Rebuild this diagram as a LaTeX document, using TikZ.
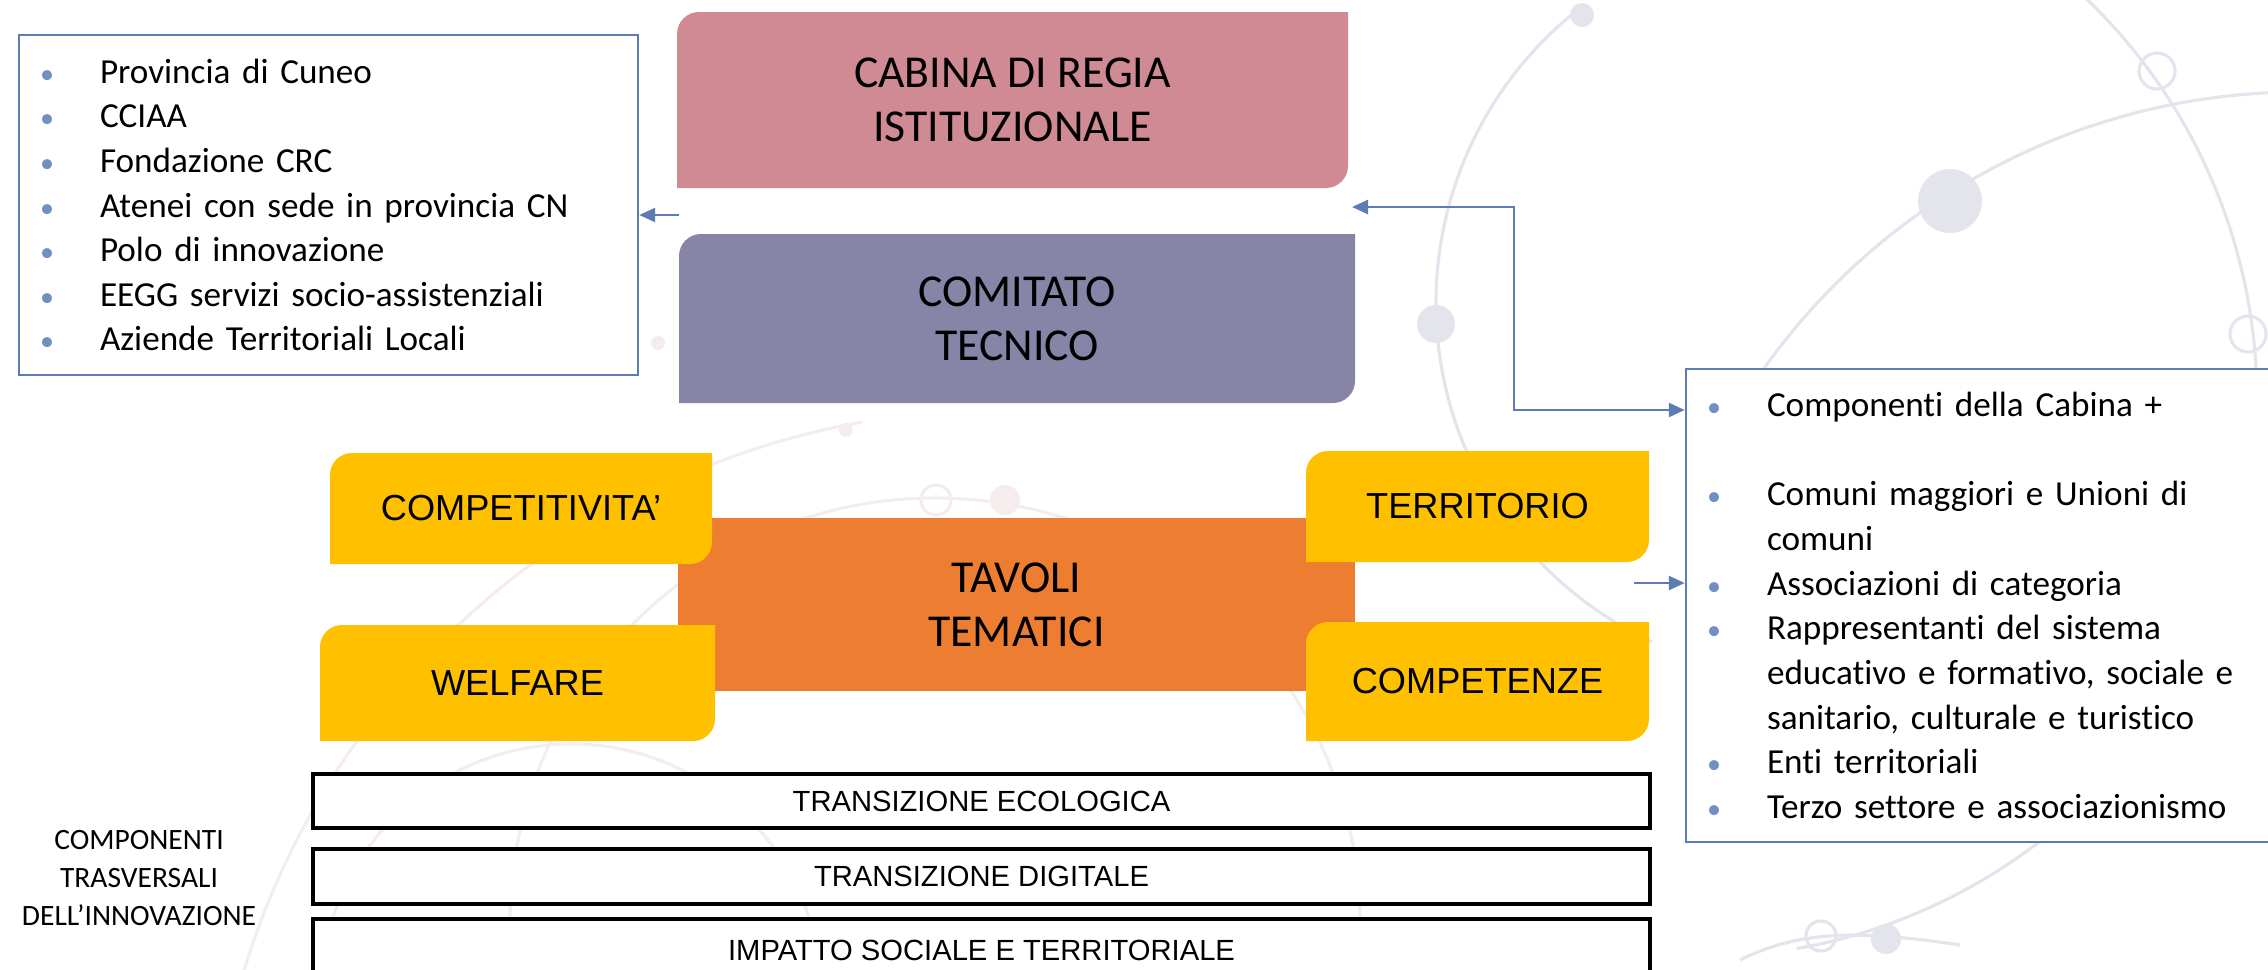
\documentclass[tikz,border=0pt]{standalone}
\usepackage{fontspec}
\setmainfont{Carlito}[Ligatures=NoCommon]
\newfontfamily\arialfont{Liberation Sans}
\usetikzlibrary{arrows.meta,positioning,calc}

\definecolor{cabina}{HTML}{D08A93}
\definecolor{comitato}{HTML}{8684A7}
\definecolor{tavoli}{HTML}{ED7D31}
\definecolor{giallo}{HTML}{FFC000}
\definecolor{linea}{HTML}{5B7DB3}
\definecolor{puntino}{HTML}{7090C4}
\definecolor{sfondo}{HTML}{E4E4EC}
\definecolor{sfondorosa}{HTML}{F5ECEE}

\newcommand{\voce}[1]{\makebox[0.6cm][l]{\textcolor{puntino}{\fontsize{8}{8}\selectfont\textbullet}}#1}

\begin{document}
\begin{tikzpicture}
[
	lista/.style={rectangle,draw=linea,line width=0.7pt,fill=white,align=left,inner xsep=0.21cm,inner ysep=0pt,font=\fontsize{10}{12.7}\selectfont},
	angolo/.style={rectangle,inner sep=0pt,align=center,path picture={
		\fill[#1] (path picture bounding box.south west) -- ([yshift=-0.22cm]path picture bounding box.north west)
			arc[start angle=180,end angle=90,radius=0.22cm] -- (path picture bounding box.north east)
			-- ([yshift=0.22cm]path picture bounding box.south east) arc[start angle=0,end angle=-90,radius=0.22cm] -- cycle;}},
	grande/.style={font=\fontsize{13}{15.4}\selectfont},
	tema/.style={angolo=giallo,font=\arialfont\fontsize{10.3}{12}\selectfont},
	barra/.style={rectangle,draw=black,line width=1pt,fill=white,inner sep=0pt,minimum width=13.37cm,font=\arialfont\fontsize{8.3}{10}\selectfont},
	freccia/.style={draw=linea,line width=0.75pt,->},
	>={Triangle[length=0.16cm,width=0.14cm]}
]
	\useasboundingbox (0,0) rectangle (22.68,-9.69);
	\clip (0,0) rectangle (22.68,-9.69);

	% sfondo
	\begin{scope}[draw=sfondo,line width=0.9pt]
		\draw (17.00,-4.00) ++(50:5.57) arc[start angle=50,end angle=-80,radius=5.57];
		\draw (18.10,-3.03) ++(128:3.74) arc[start angle=128,end angle=245,radius=3.74];
		\draw (23.00,-7.50) ++(92:6.58) arc[start angle=92,end angle=146,radius=6.58];
		\fill[sfondo] (15.82,-0.15) circle[radius=0.12];
		\fill[sfondo] (14.36,-3.24) circle[radius=0.19];
		\fill[sfondo] (19.50,-2.01) circle[radius=0.32];
		\draw (21.57,-0.71) circle[radius=0.18];
		\draw (22.48,-3.34) circle[radius=0.18];
		\draw (18.21,-9.36) circle[radius=0.15];
		\fill[sfondo] (18.86,-9.39) circle[radius=0.15];
		\draw (17.40,-9.60) .. controls (18.00,-9.30) and (18.60,-9.30) .. (19.60,-9.45);
	\end{scope}
	\begin{scope}[draw=sfondorosa,line width=0.9pt]
		\draw (9.35,-9.23) circle[radius=4.25];
		\draw (10.00,-12.00) ++(100:7.90) arc[start angle=100,end angle=168,radius=7.90];
		\draw (5.71,-9.94) ++(15:2.50) arc[start angle=15,end angle=165,radius=2.50];
		\draw (9.36,-5.00) circle[radius=0.15];
		\fill[sfondorosa] (10.05,-5.00) circle[radius=0.15];
		\fill[sfondorosa] (6.58,-3.43) circle[radius=0.07];
		\fill[sfondorosa] (8.46,-4.30) circle[radius=0.07];
	\end{scope}

	% riquadri elenco
	\node[lista,minimum width=6.19cm,minimum height=3.40cm,text width=5.77cm] (enti) at (3.285,-2.05) {
		\voce{Provincia di Cuneo}\\
		\voce{CCIAA}\\
		\voce{Fondazione CRC}\\
		\voce{Atenei con sede in provincia CN}\\
		\voce{Polo di innovazione}\\
		\voce{EEGG servizi socio-assistenziali}\\
		\voce{Aziende Territoriali Locali}};
	\node[lista,minimum width=6.24cm,minimum height=4.73cm,text width=5.82cm] (membri) at (19.98,-6.055) {
		\voce{Componenti della Cabina +}\\
		\mbox{}\\
		\voce{Comuni maggiori e Unioni di}\\
		\hspace*{0.6cm}comuni\\
		\voce{Associazioni di categoria}\\
		\voce{Rappresentanti del sistema}\\
		\hspace*{0.6cm}educativo e formativo, sociale e\\
		\hspace*{0.6cm}sanitario, culturale e turistico\\
		\voce{Enti territoriali}\\
		\voce{Terzo settore e associazionismo}};

	% organi
	\node[angolo=cabina,grande,minimum width=6.71cm,minimum height=1.76cm] (cabina) at (10.125,-1.00) {CABINA DI REGIA\\ISTITUZIONALE};
	\node[angolo=comitato,grande,minimum width=6.76cm,minimum height=1.69cm] (comitato) at (10.17,-3.185) {COMITATO\\TECNICO};
	\node[rectangle,fill=tavoli,grande,align=center,inner sep=0pt,minimum width=6.77cm,minimum height=1.73cm] (tavoli) at (10.165,-6.045) {TAVOLI\\TEMATICI};

	% tavoli tematici
	\node[tema,minimum width=3.82cm,minimum height=1.11cm] (compet) at (5.21,-5.085) {COMPETITIVITA’};
	\node[tema,minimum width=3.95cm,minimum height=1.16cm] (welfare) at (5.175,-6.83) {WELFARE};
	\node[tema,minimum width=3.43cm,minimum height=1.11cm] (territorio) at (14.775,-5.065) {TERRITORIO};
	\node[tema,minimum width=3.43cm,minimum height=1.19cm] (competenze) at (14.775,-6.815) {COMPETENZE};

	% componenti trasversali
	\node[barra,minimum height=0.54cm] (ecologica) at (9.815,-8.01) {TRANSIZIONE ECOLOGICA};
	\node[barra,minimum height=0.55cm] (digitale) at (9.815,-8.765) {TRANSIZIONE DIGITALE};
	\node[barra,minimum height=0.70cm] (impatto) at (9.815,-9.54) {\raisebox{0.08cm}{IMPATTO SOCIALE E TERRITORIALE}};
	\node[align=center,font=\fontsize{8.4}{10.8}\selectfont] (trasversali) at (1.39,-8.78) {COMPONENTI\\TRASVERSALI\\DELL’INNOVAZIONE};

	% frecce
	\coordinate (sx) at (6.79,-2.15);
	\draw[freccia] (sx) -- (sx -| enti.east);
	\coordinate (dx) at (13.52,-2.07);
	\draw[freccia,<->] (dx) -| (15.14,-4.10) -- (membri.west |- 0,-4.10);
	\coordinate (tx) at (16.34,-5.83);
	\draw[freccia] (tx) -- (tx -| membri.west);
\end{tikzpicture}
\end{document}
